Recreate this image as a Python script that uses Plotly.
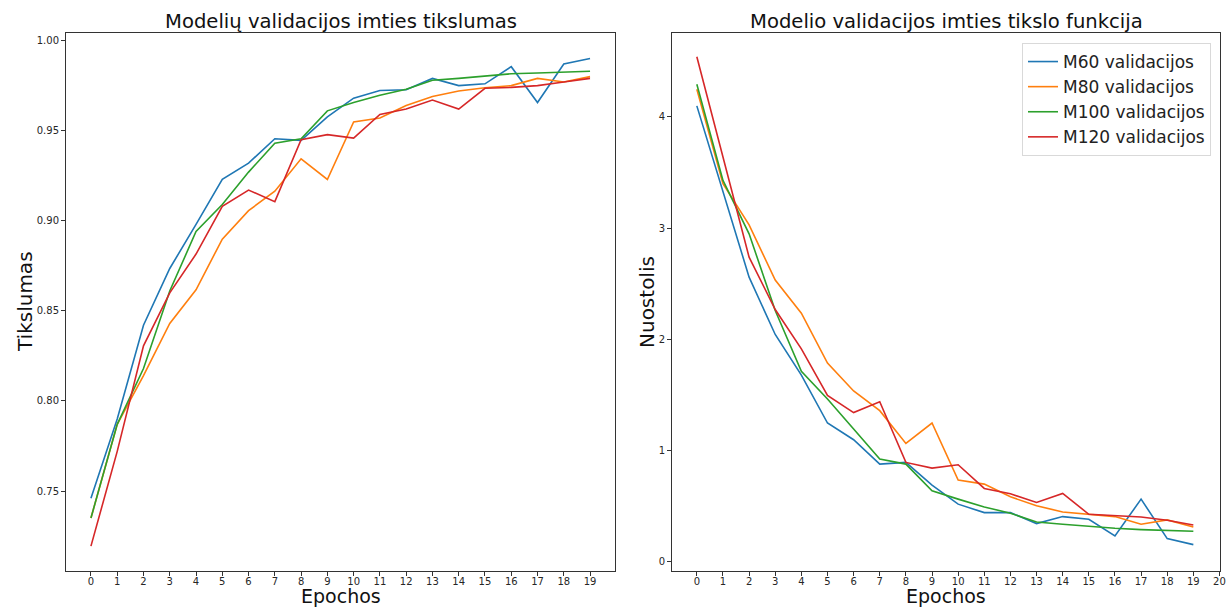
import plotly.graph_objects as go

epochs = list(range(20))

acc_m60 = [0.746, 0.790, 0.842, 0.8735, 0.898, 0.923, 0.932, 0.9455, 0.9446, 0.9576,
           0.968, 0.9723, 0.9727, 0.979, 0.975, 0.976, 0.9855, 0.9656, 0.987, 0.990]
acc_m80 = [0.735, 0.787, 0.814, 0.843, 0.8617, 0.8898, 0.9056, 0.9164, 0.9344, 0.9229,
           0.9548, 0.957, 0.964, 0.969, 0.972, 0.9738, 0.975, 0.979, 0.977, 0.980]
acc_m100 = [0.735, 0.787, 0.818, 0.861, 0.894, 0.909, 0.927, 0.943, 0.9455, 0.961,
            0.9656, 0.9697, 0.973, 0.978, 0.979, 0.9805, 0.9816, 0.982, 0.9825, 0.983]
acc_m120 = [0.7194, 0.772, 0.8306, 0.860, 0.8815, 0.908, 0.917, 0.9106, 0.945, 0.9478,
            0.9459, 0.959, 0.962, 0.967, 0.962, 0.9735, 0.974, 0.975, 0.977, 0.979]

loss_m60 = [4.10, 3.33, 2.56, 2.045, 1.68, 1.249, 1.099, 0.880, 0.895, 0.691,
            0.52, 0.444, 0.444, 0.345, 0.408, 0.384, 0.234, 0.565, 0.21, 0.156]
loss_m80 = [4.25, 3.40, 3.03, 2.534, 2.236, 1.788, 1.537, 1.36, 1.066, 1.249,
            0.736, 0.70, 0.586, 0.505, 0.45, 0.43, 0.408, 0.339, 0.378, 0.315]
loss_m100 = [4.295, 3.43, 2.95, 2.26, 1.713, 1.465, 1.195, 0.925, 0.88, 0.64,
             0.565, 0.495, 0.438, 0.36, 0.339, 0.318, 0.303, 0.291, 0.282, 0.276]
loss_m120 = [4.542, 3.63, 2.74, 2.269, 1.916, 1.498, 1.343, 1.441, 0.895, 0.844,
             0.874, 0.661, 0.613, 0.535, 0.616, 0.429, 0.414, 0.405, 0.375, 0.333]

series_names = ["M60 validacijos", "M80 validacijos", "M100 validacijos", "M120 validacijos"]
colors = ["#1f77b4", "#ff7f0e", "#2ca02c", "#d62728"]

left_ticks = list(range(20))
right_ticks = list(range(21))
acc_ticks = [0.75, 0.80, 0.85, 0.90, 0.95, 1.00]
acc_tick_text = ["0.75", "0.80", "0.85", "0.90", "0.95", "1.00"]
loss_ticks = [0, 1, 2, 3, 4]

FONT = "DejaVu Sans"
W, H = 1226, 609

fig = go.Figure()

acc_all = [acc_m60, acc_m80, acc_m100, acc_m120]
loss_all = [loss_m60, loss_m80, loss_m100, loss_m120]

for name, col, ys in zip(series_names, colors, acc_all):
    fig.add_trace(go.Scatter(x=epochs, y=ys, mode="lines", name=name,
                             line=dict(color=col, width=1.6),
                             xaxis="x", yaxis="y", showlegend=False))
for name, col, ys in zip(series_names, colors, loss_all):
    fig.add_trace(go.Scatter(x=epochs, y=ys, mode="lines", name=name,
                             line=dict(color=col, width=1.6),
                             xaxis="x2", yaxis="y2", showlegend=True))

axis_common = dict(showline=True, linecolor="#333333", linewidth=1, mirror=True,
                   ticks="outside", ticklen=4, tickcolor="#333333", tickwidth=1,
                   showgrid=False, zeroline=False, automargin=False,
                   tickfont=dict(family=FONT, size=10, color="#262626"))

ydom = [1 - 571 / H, 1 - 33 / H]

fig.update_layout(
    width=W, height=H,
    margin=dict(l=0, r=0, t=0, b=0),
    paper_bgcolor="white", plot_bgcolor="white",
    font=dict(family=FONT),
    xaxis=dict(domain=[66 / W, 615 / W], range=[-0.95, 19.95],
               tickmode="array", tickvals=left_ticks, anchor="y",
               ticklabelstandoff=-3, **axis_common),
    yaxis=dict(domain=ydom, range=[0.7056, 1.0042], tickmode="array",
               tickvals=acc_ticks, ticktext=acc_tick_text, anchor="x", **axis_common),
    xaxis2=dict(domain=[672 / W, 1220 / W], range=[-0.95, 20.02],
                tickmode="array", tickvals=right_ticks, anchor="y2",
                ticklabelstandoff=-3, **axis_common),
    yaxis2=dict(domain=ydom, range=[-0.081, 4.755], tickmode="array",
                tickvals=loss_ticks, anchor="x2", **axis_common),
    legend=dict(x=1211 / W, y=1 - 43 / H, xanchor="right", yanchor="top",
                bgcolor="white", bordercolor="#d9d9d9", borderwidth=1,
                font=dict(family=FONT, size=17, color="#222222"),
                tracegroupgap=0),
    showlegend=True,
)

annotations = [
    dict(text="Modelių validacijos imties tikslumas", x=(66 + 615) / 2 / W, y=1 - 22 / H,
         font=dict(size=19.6, color="#111111"), yanchor="middle"),
    dict(text="Modelio validacijos imties tikslo funkcija", x=(672 + 1220) / 2 / W, y=1 - 22 / H,
         font=dict(size=19.6, color="#111111"), yanchor="middle"),
    dict(text="Epochos", x=(66 + 615) / 2 / W, y=0,
         font=dict(size=19, color="#111111"), yanchor="bottom"),
    dict(text="Epochos", x=(672 + 1220) / 2 / W, y=0,
         font=dict(size=19, color="#111111"), yanchor="bottom"),
    dict(text="Tikslumas", x=25 / W, y=1 - 302 / H, textangle=-90,
         font=dict(size=20, color="#111111"), yanchor="middle"),
    dict(text="Nuostolis", x=647 / W, y=1 - 302 / H, textangle=-90,
         font=dict(size=20, color="#111111"), yanchor="middle"),
]
for a in annotations:
    a.update(xref="paper", yref="paper", showarrow=False, xanchor="center")
    a["font"]["family"] = FONT
fig.update_layout(annotations=annotations)

fig.write_html("out.html")
